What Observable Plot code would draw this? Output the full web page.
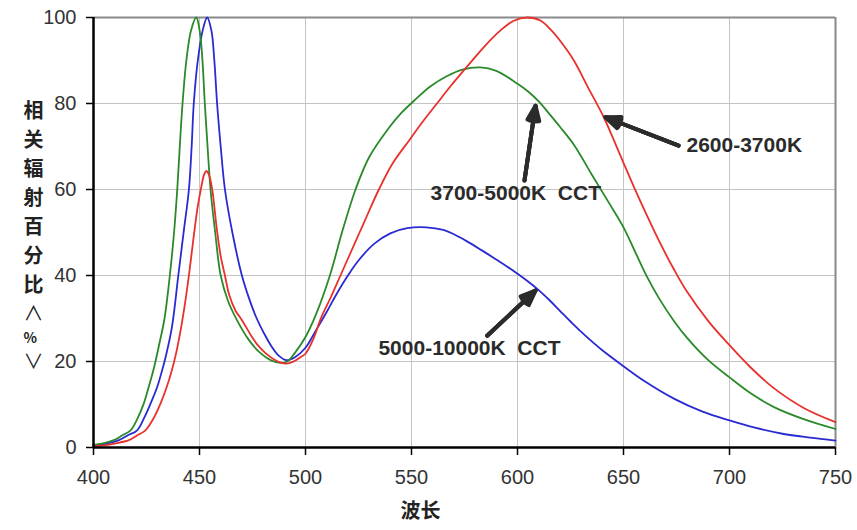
<!DOCTYPE html>
<html>
<head>
<meta charset="utf-8">
<script src="https://cdn.jsdelivr.net/npm/d3@7"></script>
<script src="https://cdn.jsdelivr.net/npm/@observablehq/plot@0.6"></script>
<style>
  body { margin: 0; background: #fff; }
  svg text { white-space: pre; }
</style>
</head>
<body>
<div id="chart"></div>
<script>
// ---- tick labels ----
const xTicks = [400, 450, 500, 550, 600, 650, 700, 750];
const yTicks = [0, 20, 40, 60, 80, 100];
const xTitle = "波长";
const yTitleMain = "相\n关\n辐\n射\n百\n分\n比";
const yTitleUnit = ["∧", "%", "∨"];

// ---- 5000-10000K CCT (blue) ----
const waveBlue = [400,405,412,416,420.6,424,426.9,430,432.4,434,437,440,442.5,445,446.3,447.3,449.2,451.5,453.6,455.6,457,458.3,460,462,465.5,470,473.5,477,480.5,484,487.5,491,495,500,505,510,515,520,525,532.5,540,548,557,565,570,576,583,590,595,600,605,610,615,620,626,632,640,650,660,674,687,700,712,725,738,750];
const blue     = [0.5,0.8,1.7,2.8,4,7,10.2,14,18,21,28,40,50,60,70,80,90,97,100,97,90,80,70,60,50,40,34.5,30,26.5,23.5,21.3,20.3,21,23.2,27.3,31.5,36,40,43.5,47.4,49.8,51,51.2,50.6,49.6,48,45.9,43.7,42.1,40.4,38.6,36.6,34.3,31.8,28.8,26,22.6,18.9,15.4,11.3,8.4,6.3,4.6,3.2,2.3,1.6];

// ---- 3700-5000K CCT (green) ----
const waveGreen = [400,405,409.6,413.5,417.5,420.5,423.7,426,428.5,431,433.5,436,438,439.5,440.7,442,443.8,446,448.5,450.2,451.4,452.5,453.8,455.2,457.4,460,463.5,467.8,473,478,484,488,491.5,495,500,505,511.5,517.5,523.6,530,539.3,545,552,559,566.8,574,582.5,590,600,605,610,615,620,626.6,635,643,650,655.5,661,667,673.7,680,690,700,710,721,735,750];
const green     = [0.6,1,1.7,2.8,4,6.5,10.2,14,18.5,24,30,40,50,60,70,80,90,97,100,96.5,90,80,70,60,50,40,34,29.5,25.2,22.3,20.2,19.7,20,22,25.7,31,40,50.5,60,67.5,74.3,77.7,81,84,86.4,87.9,88.4,87.6,84.6,82.8,80.5,77.6,74.6,70.4,63.5,57,51.2,45.5,39.8,34.5,29.5,25.5,20.3,16.3,12.6,9.4,6.6,4.3];

// ---- 2600-3700K (red) ----
const waveRed = [400,405,410,416.7,420.5,424.5,428,431.6,434.5,437,439,441,443,445,447,449,451,452.2,453.2,454.4,456,457,458,460,462,464,467,469.5,472,475,478,481,485,488,491,494,497.6,500,503.5,507.5,512,516.5,521,525.5,530,534.6,541,548.7,555,562,568.4,577.8,585,592,598,604.6,610.8,616,621,626.6,633,640.7,645,650,655,661.2,667,673.7,680,690,700,710,720.9,735,750];
const red     = [0.3,0.5,0.9,1.7,2.8,4,6.5,10.2,14,18,22,27,33,40,48,55.5,61,63.5,64.3,63.5,60,56,51.5,44.5,40,35.5,31.8,30,28,25.5,23.5,22,20.5,19.8,19.5,19.9,21,21.8,25,30.3,35,40,45,50,55,60,66,71.3,75.6,80,84,89.5,93.6,97,99.2,100,99.3,97,94,90,84,76.8,72,66.2,60.5,53.8,47.8,41.5,36.2,29.4,23.8,18.6,13.8,9.2,5.9];

// ---- annotations (data coordinates) ----
const annLabels = ["2600-3700K", "3700-5000K  CCT", "5000-10000K  CCT"];
const annTextX  = [679.7, 559, 534.4];
const annTextY  = [70.2, 59.1, 23];
const arrowX1   = [676, 603.3, 585.7];
const arrowY1   = [70.2, 62.1, 26];
const arrowX2   = [641.5, 608.5, 608.5];
const arrowY2   = [76.8, 79.5, 36.5];

const toRows = (ws, vs) => ws.map((w, i) => ({w, v: vs[i]}));
const annRows = annLabels.map((label, i) => ({
  label, tx: annTextX[i], ty: annTextY[i],
  x1: arrowX1[i], y1: arrowY1[i], x2: arrowX2[i], y2: arrowY2[i]
}));

const inkColor = "#2b2b2b";
const arrowOpts = (angle) => ({
  x1: "x1", y1: "y1", x2: "x2", y2: "y2",
  stroke: inkColor, strokeWidth: 4, headLength: 6, headAngle: angle
});
const cjk = "'Noto Sans CJK SC', sans-serif";

const chart = Plot.plot({
  width: 857,
  height: 530,
  marginLeft: 93,
  marginRight: 22,
  marginTop: 17,
  marginBottom: 83,
  x: {domain: [400, 750], label: null},
  y: {domain: [0, 100], label: null},
  style: {fontFamily: "'Liberation Sans', Arial, sans-serif", fontSize: "20px", color: "#333", background: "#fff"},
  marks: [
    Plot.ruleX(xTicks.slice(1, -1), {stroke: "#c4c4c4", strokeWidth: 1}),
    Plot.ruleY(yTicks.slice(1, -1), {stroke: "#c4c4c4", strokeWidth: 1}),
    Plot.ruleY([100], {stroke: "#8a8a8a", strokeWidth: 2}),
    Plot.ruleX([750], {stroke: "#8a8a8a", strokeWidth: 2}),
    Plot.line(toRows(waveBlue, blue),   {x: "w", y: "v", stroke: "#2a2ad2", strokeWidth: 1.8, curve: "catmull-rom"}),
    Plot.line(toRows(waveGreen, green), {x: "w", y: "v", stroke: "#2a8a2a", strokeWidth: 1.8, curve: "catmull-rom"}),
    Plot.line(toRows(waveRed, red),     {x: "w", y: "v", stroke: "#e8302c", strokeWidth: 1.8, curve: "catmull-rom"}),
    Plot.ruleX([400], {stroke: "#000", strokeWidth: 2.5}),
    Plot.ruleY([0], {stroke: "#000", strokeWidth: 2.5}),
    Plot.axisX({ticks: xTicks, tickSize: 8, tickPadding: 14, stroke: "#000", strokeWidth: 1.5, fontSize: 20, fill: "#333", label: null}),
    Plot.axisY({ticks: yTicks, tickSize: 7, tickPadding: 10, stroke: "#000", strokeWidth: 1.5, fontSize: 20, fill: "#333", label: null}),
    Plot.arrow(annRows, arrowOpts(44)),
    Plot.arrow(annRows, arrowOpts(28)),
    Plot.arrow(annRows, arrowOpts(12)),
    Plot.text(annRows, {x: "tx", y: "ty", text: "label", textAnchor: "start", fontSize: 21, fontWeight: "bold", fill: inkColor}),
    Plot.text([yTitleMain], {text: d => d, frameAnchor: "left", dx: -70, dy: -37, lineHeight: 1.45, fontSize: 20, fontWeight: "bold", fontFamily: cjk, fill: "#222"}),
    Plot.text([yTitleUnit[0]], {text: d => d, frameAnchor: "left", dx: -70, dy: 82, fontSize: 20, fontFamily: cjk, fill: "#222"}),
    Plot.text([yTitleUnit[1]], {text: d => d, frameAnchor: "left", dx: -70, dy: 106, fontSize: 14, fontWeight: "bold", fontFamily: cjk, fill: "#222"}),
    Plot.text([yTitleUnit[2]], {text: d => d, frameAnchor: "left", dx: -70, dy: 130, fontSize: 20, fontFamily: cjk, fill: "#222"}),
    Plot.text([xTitle], {text: d => d, frameAnchor: "bottom", dx: -44, dy: 70, fontSize: 20, fontWeight: "bold", fontFamily: cjk, fill: "#222"})
  ]
});

document.getElementById("chart").appendChild(chart);
</script>
</body>
</html>
